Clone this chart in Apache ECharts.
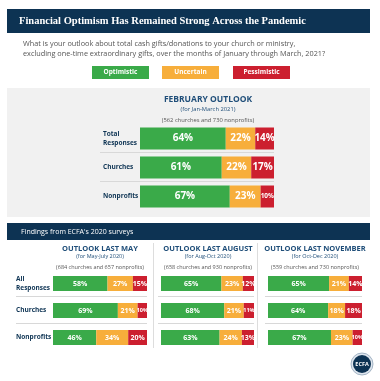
<!DOCTYPE html>
<html><head><meta charset="utf-8">
<script src="https://cdn.jsdelivr.net/npm/echarts@6/dist/echarts.min.js"></script>
<style>html,body{margin:0;padding:0;background:#fff}#c{width:380px;height:381px}</style>
</head><body><div id="c"></div>
<script>
const seriesNames = ['Optimistic', 'Uncertain', 'Pessimistic'];
const topRows = ['Total\nResponses', 'Churches', 'Nonprofits'];
const lowerRows = ['All\nResponses', 'Churches', 'Nonprofits'];
const febOpt = [64, 61, 67], febUnc = [22, 22, 23], febPes = [14, 17, 10];
const mayOpt = [58, 69, 46], mayUnc = [27, 21, 34], mayPes = [15, 10, 20];
const augOpt = [65, 68, 63], augUnc = [23, 21, 24], augPes = [12, 11, 13];
const novOpt = [65, 64, 67], novUnc = [21, 18, 23], novPes = [14, 18, 10];
const colTitles = ['OUTLOOK LAST MAY', 'OUTLOOK LAST AUGUST', 'OUTLOOK LAST NOVEMBER'];
const colPeriods = ['(for May-July 2020)', '(for Aug-Oct 2020)', '(for Oct-Dec 2020)'];
const colSamples = ['(684 churches and 657 nonprofits)', '(658 churches and 930 nonprofits)', '(559 churches and 730 nonprofits)'];

const COLORS = ['#3aaa49', '#f7ae3b', '#cc1f2f'];
const NAVY = '#0d3353';
const FONT = '"Open Sans", "Noto Sans", sans-serif';

const chart = echarts.init(document.getElementById('c'), null, {renderer: 'canvas'});

const grids = [
  {left: 140, top: 124, width: 134, height: 87},
  {left: 53, top: 270, width: 94, height: 81},
  {left: 161, top: 270, width: 93, height: 81},
  {left: 268, top: 270, width: 94, height: 81}
];
const groups = [
  [febOpt, febUnc, febPes],
  [mayOpt, mayUnc, mayPes],
  [augOpt, augUnc, augPes],
  [novOpt, novUnc, novPes]
];

const xAxis = grids.map((g, i) => ({gridIndex: i, type: 'value', min: 0, max: 100, show: false}));
const yAxis = grids.map((g, i) => ({
  gridIndex: i, type: 'category', inverse: true,
  data: i === 0 ? topRows : lowerRows,
  axisLine: {show: false}, axisTick: {show: false}, splitLine: {show: false},
  axisLabel: {show: i <= 1, align: 'left', margin: 37, color: NAVY, fontWeight: 'bold',
    fontFamily: FONT, fontSize: 6.5, lineHeight: 8.5}
}));

const series = [];
groups.forEach((grp, gi) => {
  grp.forEach((arr, si) => {
    series.push({
      name: seriesNames[si], type: 'bar', stack: 'g' + gi,
      xAxisIndex: gi, yAxisIndex: gi,
      barWidth: gi === 0 ? 22 : 15,
      itemStyle: {color: COLORS[si]},
      data: arr.map(v => ({value: v, label: {fontSize: gi === 0 ? (v <= 10 ? 6.5 : 10) : (v <= 11 ? 5.5 : 7)}})),
      label: {show: true, position: 'inside', formatter: '{c}%', color: '#fff', fontWeight: 'bold', fontFamily: FONT},
      emphasis: {disabled: true}, animation: false
    });
  });
});

const graphic = [];
graphic.push({type: 'rect', shape: {x: 7, y: 9, width: 363, height: 24}, style: {fill: NAVY}, silent: true});
graphic.push({type: 'text', x: 19, y: 21, style: {text: 'Financial Optimism Has Remained Strong Across the Pandemic',
  fill: '#fff', fontSize: 10.5, fontWeight: 'bold', fontFamily: '"Liberation Serif", serif', verticalAlign: 'middle'}});
graphic.push({type: 'text', x: 23, y: 44, style: {text: 'What is your outlook about total cash gifts/donations to your church or ministry,',
  fill: '#555', fontSize: 7.3, fontFamily: FONT, verticalAlign: 'middle'}});
graphic.push({type: 'text', x: 23, y: 54, style: {text: 'excluding one-time extraordinary gifts, over the months of January through March, 2021?',
  fill: '#555', fontSize: 7.3, fontFamily: FONT, verticalAlign: 'middle'}});
const legX = [92, 162, 233];
seriesNames.forEach((n, i) => {
  graphic.push({type: 'rect', shape: {x: legX[i], y: 66, width: 57, height: 13}, style: {fill: COLORS[i]}, silent: true});
  graphic.push({type: 'text', x: legX[i] + 28.5, y: 72.5, style: {text: n, fill: '#fff', fontSize: 6.5, fontWeight: 'bold',
    fontFamily: FONT, align: 'center', verticalAlign: 'middle'}});
});
graphic.push({type: 'rect', z: -10, shape: {x: 7, y: 88, width: 363, height: 129}, style: {fill: '#f1f1f1'}, silent: true});
graphic.push({type: 'text', x: 208, y: 100, style: {text: 'FEBRUARY OUTLOOK', fill: '#1f4e79', fontSize: 8.5, fontWeight: 'bold',
  fontFamily: FONT, align: 'center', verticalAlign: 'middle'}});
graphic.push({type: 'text', x: 208, y: 109.5, style: {text: '(for Jan-March 2021)', fill: '#1f4e79', fontSize: 5.8,
  fontFamily: FONT, align: 'center', verticalAlign: 'middle'}});
graphic.push({type: 'text', x: 208, y: 120, style: {text: '(562 churches and 730 nonprofits)', fill: '#555', fontSize: 5.8,
  fontFamily: FONT, align: 'center', verticalAlign: 'middle'}});
[152.5, 181.5].forEach(y => graphic.push({type: 'line', shape: {x1: 100, y1: y, x2: 274, y2: y},
  style: {stroke: '#d8d8d8', lineWidth: 1}, silent: true}));
graphic.push({type: 'rect', shape: {x: 7, y: 223, width: 363, height: 17}, style: {fill: NAVY}, silent: true});
graphic.push({type: 'text', x: 21, y: 231.5, style: {text: "Findings from ECFA's 2020 surveys", fill: '#fff',
  fontSize: 7, fontFamily: FONT, verticalAlign: 'middle'}});
const colCx = [100, 208, 315];
colTitles.forEach((t, i) => {
  graphic.push({type: 'text', x: colCx[i], y: 249, style: {text: t, fill: '#1f4e79', fontSize: 7.5, fontWeight: 'bold',
    fontFamily: FONT, align: 'center', verticalAlign: 'middle'}});
  graphic.push({type: 'text', x: colCx[i], y: 256.5, style: {text: colPeriods[i], fill: '#1f4e79', fontSize: 5.5,
    fontFamily: FONT, align: 'center', verticalAlign: 'middle'}});
  graphic.push({type: 'text', x: colCx[i], y: 267, style: {text: colSamples[i], fill: '#555', fontSize: 5.5,
    fontFamily: FONT, align: 'center', verticalAlign: 'middle'}});
});
[153.5, 257.5].forEach(x => graphic.push({type: 'line', shape: {x1: x, y1: 243, x2: x, y2: 348},
  style: {stroke: '#dddddd', lineWidth: 1}, silent: true}));
const sepSpans = [[16, 147], [158, 254], [265, 362]];
[296.5, 323.5].forEach(y => sepSpans.forEach(s => graphic.push({type: 'line', shape: {x1: s[0], y1: y, x2: s[1], y2: y},
  style: {stroke: '#d8d8d8', lineWidth: 1}, silent: true})));
graphic.push({type: 'circle', shape: {cx: 362, cy: 364, r: 11}, style: {fill: '#dfe6ee', stroke: '#8fa3b8', lineWidth: 0.8}, silent: true});
graphic.push({type: 'circle', shape: {cx: 362, cy: 364, r: 9}, style: {fill: NAVY}, silent: true});
graphic.push({type: 'text', x: 362, y: 364.5, style: {text: 'ECFA', fill: '#fff', fontSize: 5.5, fontWeight: 'bold',
  fontFamily: FONT, align: 'center', verticalAlign: 'middle'}});

chart.setOption({
  backgroundColor: '#fff',
  animation: false,
  grid: grids.map(g => Object.assign({containLabel: false}, g)),
  xAxis, yAxis, series, graphic
});
</script></body></html>
